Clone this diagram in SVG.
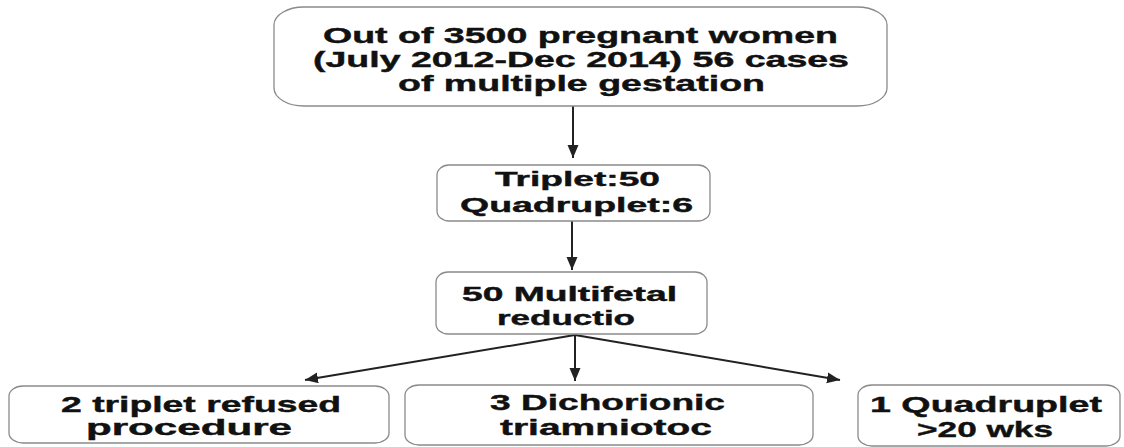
<svg xmlns="http://www.w3.org/2000/svg" width="1124" height="447" viewBox="0 0 1124 447">
<defs>
<style>
.box{fill:#fff;stroke:#8a8a8a;stroke-width:1.3}
.t{font-family:"Liberation Sans",Arial,sans-serif;font-weight:bold;fill:#111;stroke:#111;stroke-width:0.4}
.c{stroke:#222;stroke-width:2;fill:none;marker-end:url(#ah)}
</style>
<marker id="ah" markerUnits="userSpaceOnUse" markerWidth="14" markerHeight="12" refX="13" refY="5.5" orient="auto">
<path d="M0,0 L13,5.5 L0,11 Z" fill="#222"/>
</marker>
</defs>
<rect width="1124" height="447" fill="#fff"/>
<g id="connectors">
<line class="c" x1="573" y1="106" x2="573" y2="158"/>
<line class="c" x1="572" y1="221" x2="572" y2="270"/>
<line class="c" x1="575" y1="335" x2="305" y2="380"/>
<line class="c" x1="575" y1="335" x2="575" y2="381"/>
<line class="c" x1="575" y1="335" x2="840" y2="380"/>
</g>
<g id="n1">
<rect class="box" x="274" y="7" width="613" height="99" rx="30" ry="18"/>
<text class="t" font-size="21.5" x="323" y="43" textLength="515" lengthAdjust="spacingAndGlyphs">Out of 3500 pregnant women</text>
<text class="t" font-size="21.5" x="313" y="67" textLength="536" lengthAdjust="spacingAndGlyphs">(July 2012-Dec 2014) 56 cases</text>
<text class="t" font-size="21.5" x="398" y="91" textLength="367" lengthAdjust="spacingAndGlyphs">of multiple gestation</text>
</g>
<g id="n2">
<rect class="box" x="437" y="165" width="273" height="56" rx="12" ry="10"/>
<text class="t" font-size="20" x="495" y="186" textLength="165" lengthAdjust="spacingAndGlyphs">Triplet:50</text>
<text class="t" font-size="20" x="460" y="212" textLength="233" lengthAdjust="spacingAndGlyphs">Quadruplet:6</text>
</g>
<g id="n3">
<rect class="box" x="436" y="272" width="271" height="62" rx="12" ry="10"/>
<text class="t" font-size="20" x="462" y="301" textLength="215" lengthAdjust="spacingAndGlyphs">50 Multifetal</text>
<text class="t" font-size="20" x="497" y="325" textLength="138" lengthAdjust="spacingAndGlyphs">reductio</text>
</g>
<g id="n4">
<rect class="box" x="9" y="386" width="380" height="57" rx="14" ry="10"/>
<text class="t" font-size="22" x="61" y="412" textLength="280" lengthAdjust="spacingAndGlyphs">2 triplet refused</text>
<text class="t" font-size="22" x="86" y="435" textLength="206" lengthAdjust="spacingAndGlyphs">procedure</text>
</g>
<g id="n5">
<rect class="box" x="405" y="385" width="408" height="60" rx="14" ry="10"/>
<text class="t" font-size="22" x="490" y="410" textLength="235" lengthAdjust="spacingAndGlyphs">3 Dichorionic</text>
<text class="t" font-size="22" x="500" y="435" textLength="212" lengthAdjust="spacingAndGlyphs">triamniotoc</text>
</g>
<g id="n6">
<rect class="box" x="858" y="385" width="262" height="61" rx="14" ry="10"/>
<text class="t" font-size="22" x="870" y="412" textLength="232" lengthAdjust="spacingAndGlyphs">1 Quadruplet</text>
<text class="t" font-size="22" x="917" y="437" textLength="136" lengthAdjust="spacingAndGlyphs">&gt;20 wks</text>
</g>
</svg>
